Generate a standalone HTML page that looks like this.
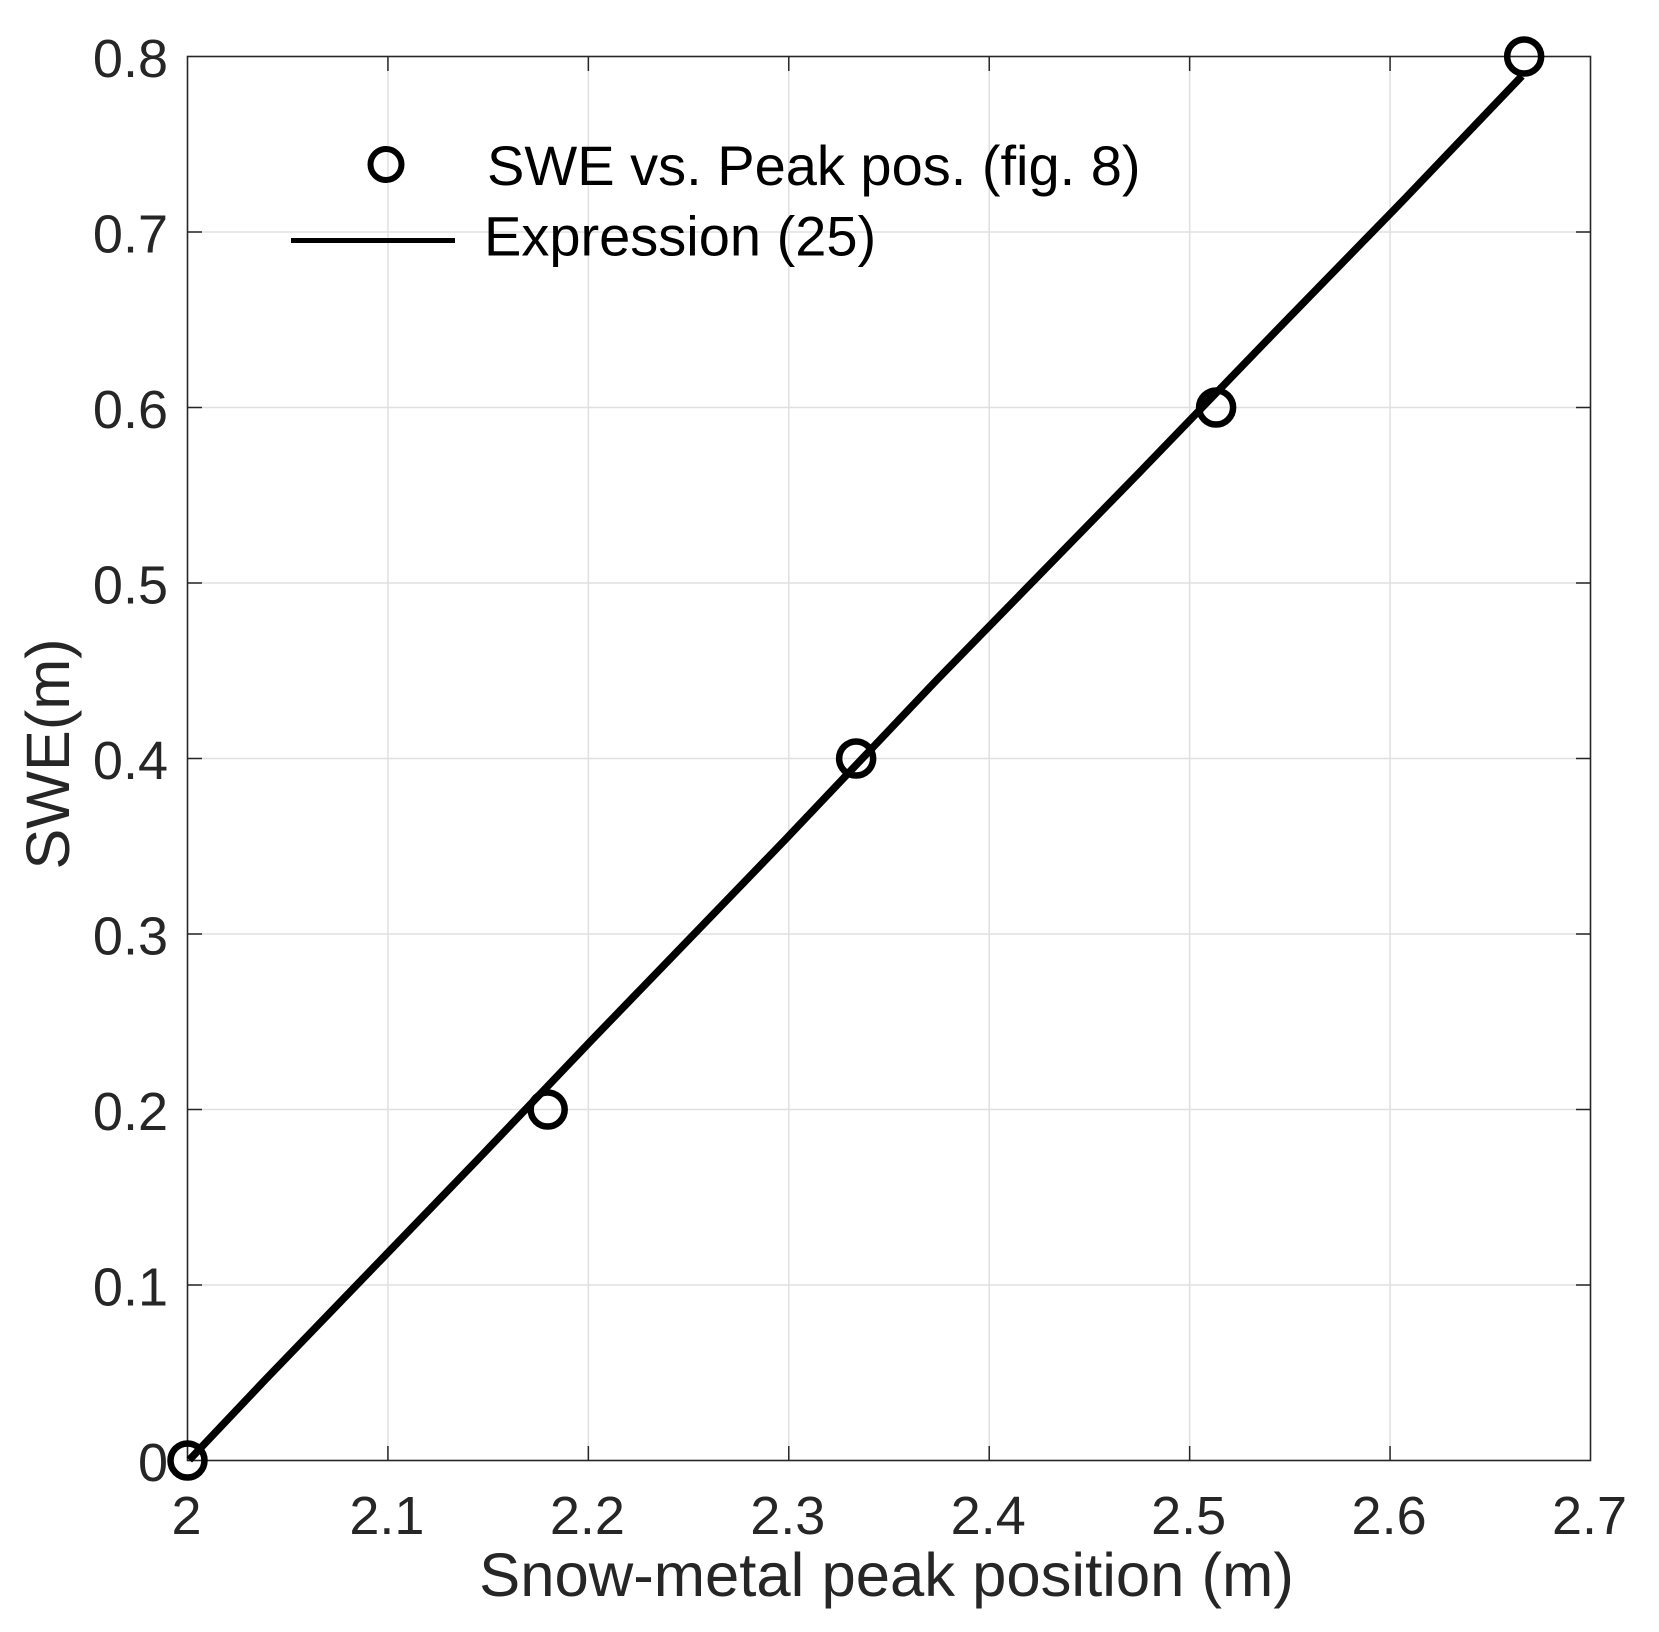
<!DOCTYPE html>
<html lang="en">
<head>
<meta charset="utf-8">
<title>SWE vs. snow-metal peak position</title>
<style>
  html, body { margin: 0; padding: 0; background: #fff; }
  svg { display: block; }
  text { font-family: "Liberation Sans", Arial, sans-serif; }
</style>
</head>
<body>
<svg id="chart" xmlns="http://www.w3.org/2000/svg" width="1659" height="1632" viewBox="0 0 1659 1632">
  <rect x="0" y="0" width="1659" height="1632" fill="#fff"/>
  <g id="grid"></g>
  <g id="ticks"></g>
  <rect x="187.5" y="56.5" width="1403" height="1404" fill="none" stroke="#262626" stroke-width="1.6"/>
  <g id="xlabels"></g>
  <g id="ylabels"></g>
  <g id="series"></g>
  <text x="886.5" y="1596" font-size="61.6" fill="#262626" text-anchor="middle">Snow-metal peak position (m)</text>
  <text transform="translate(69 754) rotate(-90)" font-size="61.2" fill="#262626" text-anchor="middle">SWE(m)</text>
  <g>
    <circle cx="386" cy="164.5" r="15.5" fill="none" stroke="#000" stroke-width="6"/>
    <text x="487" y="185" font-size="56" fill="#000">SWE vs. Peak pos. (fig. 8)</text>
    <line x1="291" y1="240.5" x2="455" y2="240.5" stroke="#000" stroke-width="5"/>
    <text x="484" y="255.5" font-size="56" fill="#000">Expression (25)</text>
  </g>
</svg>
<script>
const xTicks = [2, 2.1, 2.2, 2.3, 2.4, 2.5, 2.6, 2.7];
const xTickLabels = ["2", "2.1", "2.2", "2.3", "2.4", "2.5", "2.6", "2.7"];
const yTicks = [0, 0.1, 0.2, 0.3, 0.4, 0.5, 0.6, 0.7, 0.8];
const yTickLabels = ["0", "0.1", "0.2", "0.3", "0.4", "0.5", "0.6", "0.7", "0.8"];
const pointX = [2, 2.1797, 2.3336, 2.5132, 2.6669];
const pointY = [0, 0.2, 0.4, 0.6, 0.8];
const lineX = [2.0009, 2.0387, 2.146, 2.2017, 2.2981, 2.3738, 2.4753, 2.5435, 2.6067, 2.6658];
const lineY = [0.0003, 0.0459, 0.1729, 0.2396, 0.3536, 0.4447, 0.5634, 0.6441, 0.7182, 0.7889];

const NS = "http://www.w3.org/2000/svg";
const plotLeft = 187.5, plotRight = 1590.5, plotTop = 56.5, plotBottom = 1460.5;
const xMin = 2, xMax = 2.7, yMin = 0, yMax = 0.8;
const tickLen = 14.5;

function xScale(v) { return plotLeft + (v - xMin) / (xMax - xMin) * (plotRight - plotLeft); }
function yScale(v) { return plotBottom - (v - yMin) / (yMax - yMin) * (plotBottom - plotTop); }
function make(tag, attrs, parent) {
  const el = document.createElementNS(NS, tag);
  for (const k in attrs) el.setAttribute(k, attrs[k]);
  parent.appendChild(el);
  return el;
}

const grid = document.getElementById("grid");
const ticks = document.getElementById("ticks");
const xlabels = document.getElementById("xlabels");
const ylabels = document.getElementById("ylabels");
const series = document.getElementById("series");

xTicks.forEach(function (v, i) {
  const x = xScale(v);
  if (i > 0 && i < xTicks.length - 1) {
    const g = make("line", { x1: x, x2: x, y1: plotTop, y2: plotBottom, stroke: "#e0e0e0", "stroke-width": 1.5 }, grid);
    
    
    const t1 = make("line", { x1: x, x2: x, y1: plotBottom, y2: plotBottom - tickLen, stroke: "#262626", "stroke-width": 1.5 }, ticks);
    
    
    const t2 = make("line", { x1: x, x2: x, y1: plotTop, y2: plotTop + tickLen, stroke: "#262626", "stroke-width": 1.5 }, ticks);
    
    
  }
  const label = make("text", { x: x - 1, y: 1534, "font-size": 54, fill: "#262626", "text-anchor": "middle" }, xlabels);
  
  
  label.textContent = xTickLabels[i];
});

yTicks.forEach(function (v, i) {
  const y = yScale(v);
  if (i > 0 && i < yTicks.length - 1) {
    const g = make("line", { x1: plotLeft, x2: plotRight, y1: y, y2: y, stroke: "#e0e0e0", "stroke-width": 1.5 }, grid);
    
    
    const t1 = make("line", { x1: plotLeft, x2: plotLeft + tickLen, y1: y, y2: y, stroke: "#262626", "stroke-width": 1.5 }, ticks);
    
    
    const t2 = make("line", { x1: plotRight, x2: plotRight - tickLen, y1: y, y2: y, stroke: "#262626", "stroke-width": 1.5 }, ticks);
    
    
  }
  const label = make("text", { x: 168, y: y + 20.5, "font-size": 54, fill: "#262626", "text-anchor": "end" }, ylabels);
  
  
  label.textContent = yTickLabels[i];
});

const linePoints = lineX.map(function (v, i) { return xScale(v) + "," + yScale(lineY[i]); }).join(" ");
const exprLine = make("polyline", { points: linePoints, fill: "none", stroke: "#000", "stroke-width": 7.5, "stroke-linejoin": "round" }, series);



pointX.forEach(function (v, i) {
  const c = make("circle", { cx: xScale(v), cy: yScale(pointY[i]), r: 17, fill: "none", stroke: "#000", "stroke-width": 6.5 }, series);
  
  
});
</script>
</body>
</html>
